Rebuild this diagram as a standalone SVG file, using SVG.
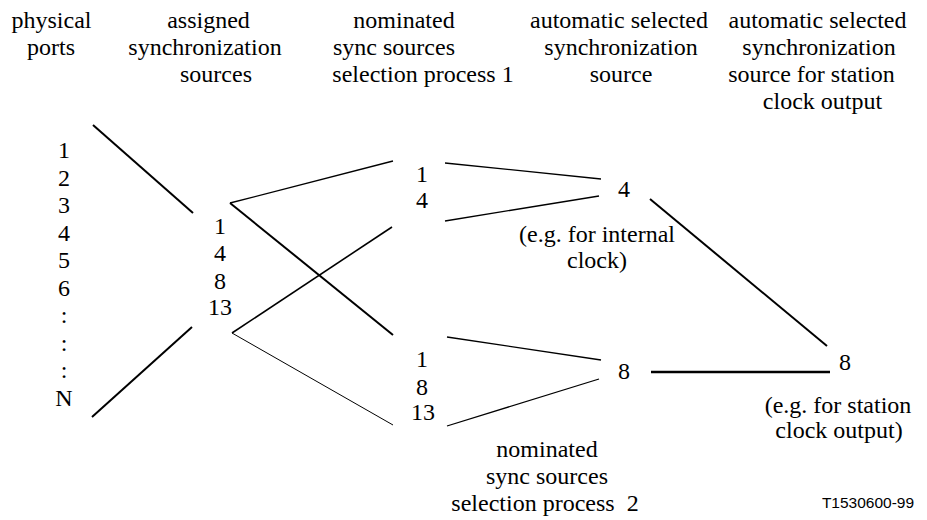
<svg xmlns="http://www.w3.org/2000/svg" width="927" height="520" viewBox="0 0 927 520">
<rect width="927" height="520" fill="#fff"/>
<g id="headers" text-anchor="middle">
<text x="51.5" y="28" style="font-family:'Liberation Serif',serif;font-size:24px">physical</text>
<text x="51" y="55" style="font-family:'Liberation Serif',serif;font-size:24px">ports</text>
<text x="208.5" y="28" style="font-family:'Liberation Serif',serif;font-size:24px">assigned</text>
<text x="205" y="55" style="font-family:'Liberation Serif',serif;font-size:24px">synchronization</text>
<text x="216" y="82" style="font-family:'Liberation Serif',serif;font-size:24px">sources</text>
<text x="404" y="28" style="font-family:'Liberation Serif',serif;font-size:24px">nominated</text>
<text x="394" y="55" style="font-family:'Liberation Serif',serif;font-size:24px">sync sources</text>
<text x="423" y="82" style="font-family:'Liberation Serif',serif;font-size:24px">selection process 1</text>
<text x="619" y="28" style="font-family:'Liberation Serif',serif;font-size:24px">automatic selected</text>
<text x="621" y="55" style="font-family:'Liberation Serif',serif;font-size:24px">synchronization</text>
<text x="621" y="82" style="font-family:'Liberation Serif',serif;font-size:24px">source</text>
<text x="817.5" y="28" style="font-family:'Liberation Serif',serif;font-size:24px">automatic selected</text>
<text x="819" y="55" style="font-family:'Liberation Serif',serif;font-size:24px">synchronization</text>
<text x="811.5" y="82" style="font-family:'Liberation Serif',serif;font-size:24px">source for station</text>
<text x="822.5" y="109" style="font-family:'Liberation Serif',serif;font-size:24px">clock output</text>
</g>
<g id="physical-ports" text-anchor="middle">
<text x="64" y="158" style="font-family:'Liberation Serif',serif;font-size:24px">1</text>
<text x="64" y="186" style="font-family:'Liberation Serif',serif;font-size:24px">2</text>
<text x="64" y="213" style="font-family:'Liberation Serif',serif;font-size:24px">3</text>
<text x="64" y="241" style="font-family:'Liberation Serif',serif;font-size:24px">4</text>
<text x="64" y="268" style="font-family:'Liberation Serif',serif;font-size:24px">5</text>
<text x="64" y="296" style="font-family:'Liberation Serif',serif;font-size:24px">6</text>
<text x="64" y="323" style="font-family:'Liberation Serif',serif;font-size:24px">:</text>
<text x="64" y="351" style="font-family:'Liberation Serif',serif;font-size:24px">:</text>
<text x="64" y="378" style="font-family:'Liberation Serif',serif;font-size:24px">:</text>
<text x="64" y="406" style="font-family:'Liberation Serif',serif;font-size:24px">N</text>
</g>
<g id="assigned-sources" text-anchor="middle">
<text x="220" y="234" style="font-family:'Liberation Serif',serif;font-size:24px">1</text>
<text x="220" y="261" style="font-family:'Liberation Serif',serif;font-size:24px">4</text>
<text x="220" y="289" style="font-family:'Liberation Serif',serif;font-size:24px">8</text>
<text x="220" y="315" style="font-family:'Liberation Serif',serif;font-size:24px">13</text>
</g>
<g id="nominated-1" text-anchor="middle">
<text x="422" y="182" style="font-family:'Liberation Serif',serif;font-size:24px">1</text>
<text x="422" y="208" style="font-family:'Liberation Serif',serif;font-size:24px">4</text>
</g>
<g id="nominated-2" text-anchor="middle">
<text x="422" y="367" style="font-family:'Liberation Serif',serif;font-size:24px">1</text>
<text x="422" y="395" style="font-family:'Liberation Serif',serif;font-size:24px">8</text>
<text x="423" y="420" style="font-family:'Liberation Serif',serif;font-size:24px">13</text>
<text x="547" y="457" style="font-family:'Liberation Serif',serif;font-size:24px">nominated</text>
<text x="547" y="484" style="font-family:'Liberation Serif',serif;font-size:24px">sync sources</text>
<text x="545" y="511" style="font-family:'Liberation Serif',serif;font-size:24px;white-space:pre">selection process  2</text>
</g>
<g id="selected-internal" text-anchor="middle">
<text x="624" y="197" style="font-family:'Liberation Serif',serif;font-size:24px">4</text>
<text x="597" y="242" style="font-family:'Liberation Serif',serif;font-size:24px">(e.g. for internal</text>
<text x="597" y="268" style="font-family:'Liberation Serif',serif;font-size:24px">clock)</text>
</g>
<g id="selected-nom2" text-anchor="middle">
<text x="624" y="379" style="font-family:'Liberation Serif',serif;font-size:24px">8</text>
</g>
<g id="station-clock" text-anchor="middle">
<text x="845" y="370" style="font-family:'Liberation Serif',serif;font-size:24px">8</text>
<text x="838" y="413" style="font-family:'Liberation Serif',serif;font-size:24px">(e.g. for station</text>
<text x="839" y="438" style="font-family:'Liberation Serif',serif;font-size:24px">clock output)</text>
</g>
<g id="connectors" stroke="#000" fill="none">
<line stroke-width="2" x1="93" y1="125" x2="193" y2="213"/>
<line stroke-width="2" x1="92" y1="417" x2="192" y2="327"/>
<line stroke-width="1.3" x1="230" y1="203" x2="393" y2="161"/>
<line stroke-width="2" x1="230" y1="203" x2="393" y2="335"/>
<line stroke-width="1.6" x1="232" y1="333" x2="392" y2="227"/>
<line stroke-width="1" x1="232" y1="333" x2="393" y2="425"/>
<line stroke-width="1.3" x1="445" y1="163" x2="601" y2="179"/>
<line stroke-width="1.3" x1="445" y1="221" x2="599" y2="196"/>
<line stroke-width="1.3" x1="447" y1="337" x2="601" y2="360"/>
<line stroke-width="1.3" x1="447" y1="426" x2="599" y2="379"/>
<line stroke-width="2" x1="650" y1="199" x2="827" y2="346"/>
<line stroke-width="2.4" x1="651" y1="372" x2="830" y2="372"/>
</g>
<text x="868" y="508" text-anchor="middle" style="font-family:'Liberation Sans',sans-serif;font-size:15.5px">T1530600-99</text>
</svg>
